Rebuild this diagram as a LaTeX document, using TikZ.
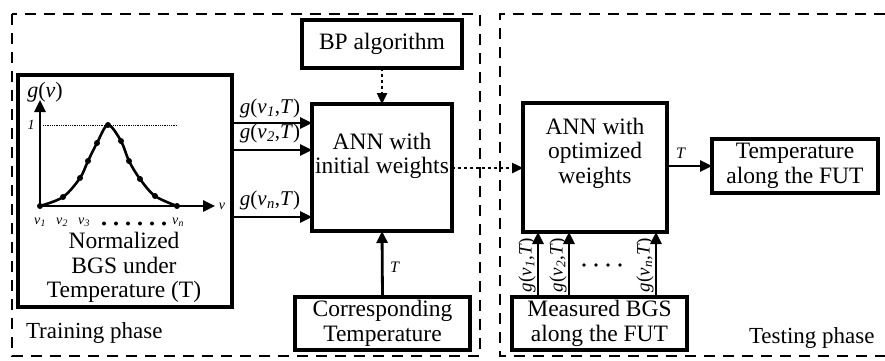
\documentclass[tikz,border=0pt]{standalone}
\usepackage{fontspec}
\setmainfont{Liberation Serif}
\usetikzlibrary{arrows.meta,calc}
\newcommand\gvT[1]{\textit{g}(\textit{v}\kern0.3pt\textsubscript{\textit{#1}},\textit{T})}
\newcommand\vsub[1]{\textit{v}\kern0.2pt\textsubscript{\textit{#1}}}
\begin{document}
\begin{tikzpicture}[x=1pt,y=-1pt,
  every node/.style={inner sep=0pt,outer sep=0pt},
  blockbox/.style={draw,line width=4pt,align=center,font=\fontsize{23.5}{24.5}\selectfont},
  blocktext/.style={align=center,font=\fontsize{23.5}{24.5}\selectfont},
  framebox/.style={line width=2.6pt,dash pattern=on 11pt off 8pt},
  arr/.style={line width=2.8pt,-{Triangle[length=12pt,width=11pt]}},
  dotarr/.style={line width=2.4pt,dash pattern=on 2.5pt off 3.5pt,-{Triangle[length=11pt,width=10pt]}},
  glabel/.style={font=\fontsize{21}{22}\selectfont},
  small/.style={font=\fontsize{14}{15}\selectfont},
  phase/.style={font=\fontsize{23}{24}\selectfont,anchor=west}]
\useasboundingbox (0,0) rectangle (885,360);

% phase frames
\draw[framebox] (12,14) rectangle (480,356);
\draw[framebox] (885,14) -- (500,14) -- (500,356) -- (885,356);
\node[phase] (train) at (26,333) {Training phase};
\node[phase] (test) at (749,338) {Testing phase};

% blocks
\node[blockbox,minimum width=214pt,minimum height=232pt] (norm) at (125,191) {};
\node[blockbox,minimum width=140pt,minimum height=127pt] (ann1) at (382,167.5) {};
\node[blocktext] (ann1txt) at (382,156) {ANN with\\initial weights};
\node[blockbox,minimum width=160pt,minimum height=48pt] (bp) at (382,44) {BP algorithm};
\node[blockbox,minimum width=175pt,minimum height=53pt] (corr) at (382.5,323.5) {Corresponding\\Temperature};
\node[blockbox,minimum width=144pt,minimum height=129pt] (ann2) at (595,167.5) {};
\node[blocktext] (ann2txt) at (595,153) {ANN with\\optimized\\weights};
\node[blockbox,minimum width=166pt,minimum height=54pt] (tout) at (795,166) {Temperature\\along the FUT};
\node[blockbox,minimum width=175pt,minimum height=53pt] (meas) at (599.5,323.5) {Measured BGS\\along the FUT};

% normalized spectrum plot inside the left block
\coordinate (orig) at (40,206);
\coordinate (ytip) at (40,100);
\coordinate (xtip) at (215,206);
\draw[line width=2.6pt,-{Triangle[length=12pt,width=11pt]}] (orig) -- (ytip);
\draw[line width=2.6pt,-{Triangle[length=12pt,width=11pt]}] (orig) -- (xtip);
\draw[densely dotted,line width=0.8pt] (43,125) -- (177,125);
\draw[line width=2.6pt,line join=round]
  plot[smooth,tension=0.55] coordinates {(40,206) (63,197) (80,178) (88,161) (97,143) (108,125)
    (121,141) (129,161) (140,179) (155,196) (177,206)};
\foreach \p in {(40,206),(63,197),(80,178),(88,161),(97,143),(108,125),
    (121,141),(129,161),(140,179),(155,196),(177,206)}
  \fill \p circle (3pt);
\node[font=\fontsize{22}{24}\selectfont] (gvlab) at (45,92) {\textit{g}(\textit{v})};
\node[small] (one) at (31,125) {\textit{1}};
\node[small] (vlab) at (222,206) {\textit{v}};
\node[small] (v1) at (40,222) {\vsub{1}};
\node[small] (v2) at (62,222) {\vsub{2}};
\node[small] (v3) at (84,222) {\vsub{3}};
\node[small] (vn) at (178,222) {\vsub{n}};
\foreach \xx in {104,116,128,140,152,164}
  \fill (\xx,223.5) circle (2pt);
\node[blocktext] (normtxt) at (124,267.5)
  {Normalized\\BGS under\\Temperature (T)};

% inputs of the training network
\draw[arr] (norm.east |- 0,123) -- (ann1.west |- 0,123);
\draw[arr] (norm.east |- 0,150) -- (ann1.west |- 0,150);
\draw[arr] (norm.east |- 0,217) -- (ann1.west |- 0,217);
\node[glabel] (g1) at (270,108) {\gvT{1}};
\node[glabel] (g2) at (270,133) {\gvT{2}};
\node[glabel] (gn) at (270,200) {\gvT{n}};

\draw[dotarr] (bp.south) -- (ann1.north);
\draw[arr] (corr.north) -- (ann1.south);
\node[font=\fontsize{16}{16}\selectfont] (tcorr) at (395,267) {\textit{T}};

% training to testing
\draw[dotarr] (ann1.east |- 0,168) -- (ann2.west |- 0,168);

% testing network
\draw[arr] (ann2.east |- tout.west) -- (tout.west);
\node[font=\fontsize{16}{16}\selectfont] (tout2) at (681,153) {\textit{T}};

\foreach \xx/\s/\nm in {538/1/m1,569/2/m2,656/n/mn}{
  \draw[arr] (meas.north -| \xx,0) -- (ann2.south -| \xx,0);
  \node[font=\fontsize{19}{20}\selectfont,rotate=90] (lab\nm) at (\xx-11,265) {\gvT{\s}};
}
\foreach \xx in {584,596,608,620}
  \fill (\xx,265) circle (1.8pt);
\end{tikzpicture}
\end{document}
